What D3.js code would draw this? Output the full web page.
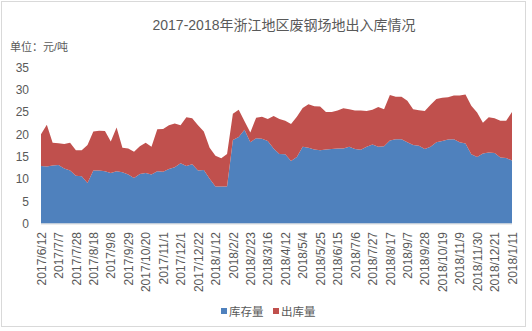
<!DOCTYPE html>
<html><head><meta charset="utf-8">
<script src="https://cdn.jsdelivr.net/npm/d3@7"></script>
<style>body{margin:0;background:#fff}svg{display:block}text{font-family:"Liberation Sans","Noto Sans CJK SC",sans-serif}</style>
</head><body><svg id="c" width="532" height="331"></svg>
<script>
const title = "2017-2018年浙江地区废钢场地出入库情况";
const unitLabel = "单位：元/吨";
const seriesNames = ["库存量", "出库量"];
const tickLabels = ["2017/6/12","2017/7/7","2017/7/28","2017/8/18","2017/9/8","2017/9/29","2017/10/20","2017/11/1","2017/12/1","2017/12/22","2018/1/12","2018/2/2","2018/2/23","2018/3/16","2018/4/12","2018/5/4","2018/5/25","2018/6/15","2018/7/6","2018/7/27","2018/8/17","2018/9/7","2018/9/28","2018/10/19","2018/11/9","2018/11/30","2018/12/21","2018/1/11"];
const labelEvery = 3;
const stock = [12.9,12.8,13.0,13.1,12.3,11.9,10.7,10.6,9.1,11.9,11.9,11.7,11.3,11.7,11.5,11.0,10.2,11.1,11.3,11.0,11.7,11.6,12.2,12.6,13.5,12.9,13.3,11.9,12.0,10.0,8.3,8.3,8.3,18.7,19.4,21.0,18.2,19.1,19.0,18.5,16.8,15.6,15.5,14.0,14.9,17.2,17.0,16.6,16.4,16.6,16.7,16.8,16.8,17.2,16.7,16.5,17.2,17.7,17.2,17.3,18.6,18.9,18.9,18.2,17.6,17.4,16.7,17.2,18.2,18.5,18.8,18.9,18.2,17.9,15.5,14.9,15.7,15.9,15.8,14.8,14.7,14.1];
const outflow = [7.1,9.3,5.1,4.9,5.5,6.2,5.7,5.8,8.5,8.7,8.9,9.0,7.1,9.8,5.5,5.8,5.9,6.2,6.8,6.2,9.4,9.6,9.8,9.8,8.5,10.9,10.3,10.1,8.6,7.0,6.9,6.3,7.3,5.9,6.1,1.9,2.2,4.6,4.9,4.9,7.3,7.8,7.5,8.3,9.0,8.7,9.7,9.7,9.8,8.4,8.3,8.5,9.0,8.4,8.6,8.8,8.0,7.8,8.9,8.3,10.2,9.5,9.5,9.3,8.0,8.0,8.5,9.4,9.7,9.7,9.5,9.8,10.5,11.0,10.9,10.0,6.9,7.9,7.8,8.2,8.3,10.9];
const yTicks = [0,5,10,15,20,25,30,35];
const colors = ["#4F81BD", "#C0504D"];

const svg = d3.select("#c");
svg.append("rect").attr("x",1.5).attr("y",1.5).attr("width",524).attr("height",325)
  .attr("fill","#fff").attr("stroke","#d9d9d9");

const n = stock.length;
const x = d3.scaleLinear().domain([0, n-1]).range([41, 512]);
const y = d3.scaleLinear().domain([0, 35]).range([223.5, 67.3]);

const rows = stock.map((s,i)=>({i, a:s, b:outflow[i]}));
const stacked = d3.stack().keys(["a","b"])(rows);
const area = d3.area().x(d=>x(d.data.i)).y0(d=>y(d[0])).y1(d=>y(d[1]));
svg.selectAll("path.ar").data(stacked).join("path").attr("class","ar")
  .attr("d", area).attr("fill",(d,k)=>colors[k]);

// x axis line
svg.append("line").attr("x1",41).attr("x2",512).attr("y1",224).attr("y2",224)
  .attr("stroke","#d9d9d9").attr("stroke-width",1);

// y axis labels
const yAxis = d3.axisLeft(y).tickValues(yTicks).tickSize(0).tickPadding(0);
const gy = svg.append("g").attr("transform","translate(29,0)").call(yAxis);
gy.select(".domain").remove();
gy.selectAll("text").attr("fill","#595959").style("font-size","12px")
  .style("font-family","'Liberation Sans',sans-serif");

// x axis labels
const xTickVals = tickLabels.map((_,k)=>k*labelEvery);
const xAxis = d3.axisBottom(x).tickValues(xTickVals).tickSize(0)
  .tickFormat((d,k)=>tickLabels[k]);
const gx = svg.append("g").attr("transform","translate(0,224)").call(xAxis);
gx.select(".domain").remove();
gx.selectAll("text").attr("fill","#595959").style("font-size","12px")
  .attr("transform","rotate(-90)").attr("text-anchor","end")
  .attr("x",-8).attr("y",0).attr("dy","0.35em");

// title
svg.append("text").attr("x",284).attr("y",30).attr("text-anchor","middle")
  .attr("fill","#595959").style("font-size","14px").text(title);
svg.append("text").attr("x",10).attr("y",51).attr("fill","#595959")
  .style("font-size","11px").text(unitLabel);

// legend
const leg = [{x:221},{x:273}];
seriesNames.forEach((nm,k)=>{
  svg.append("rect").attr("x",leg[k].x).attr("y",308).attr("width",6).attr("height",6).attr("fill",colors[k]);
  svg.append("text").attr("x",leg[k].x+8).attr("y",315.5).attr("fill","#595959")
    .style("font-size","11.5px").text(nm);
});
</script></body></html>
